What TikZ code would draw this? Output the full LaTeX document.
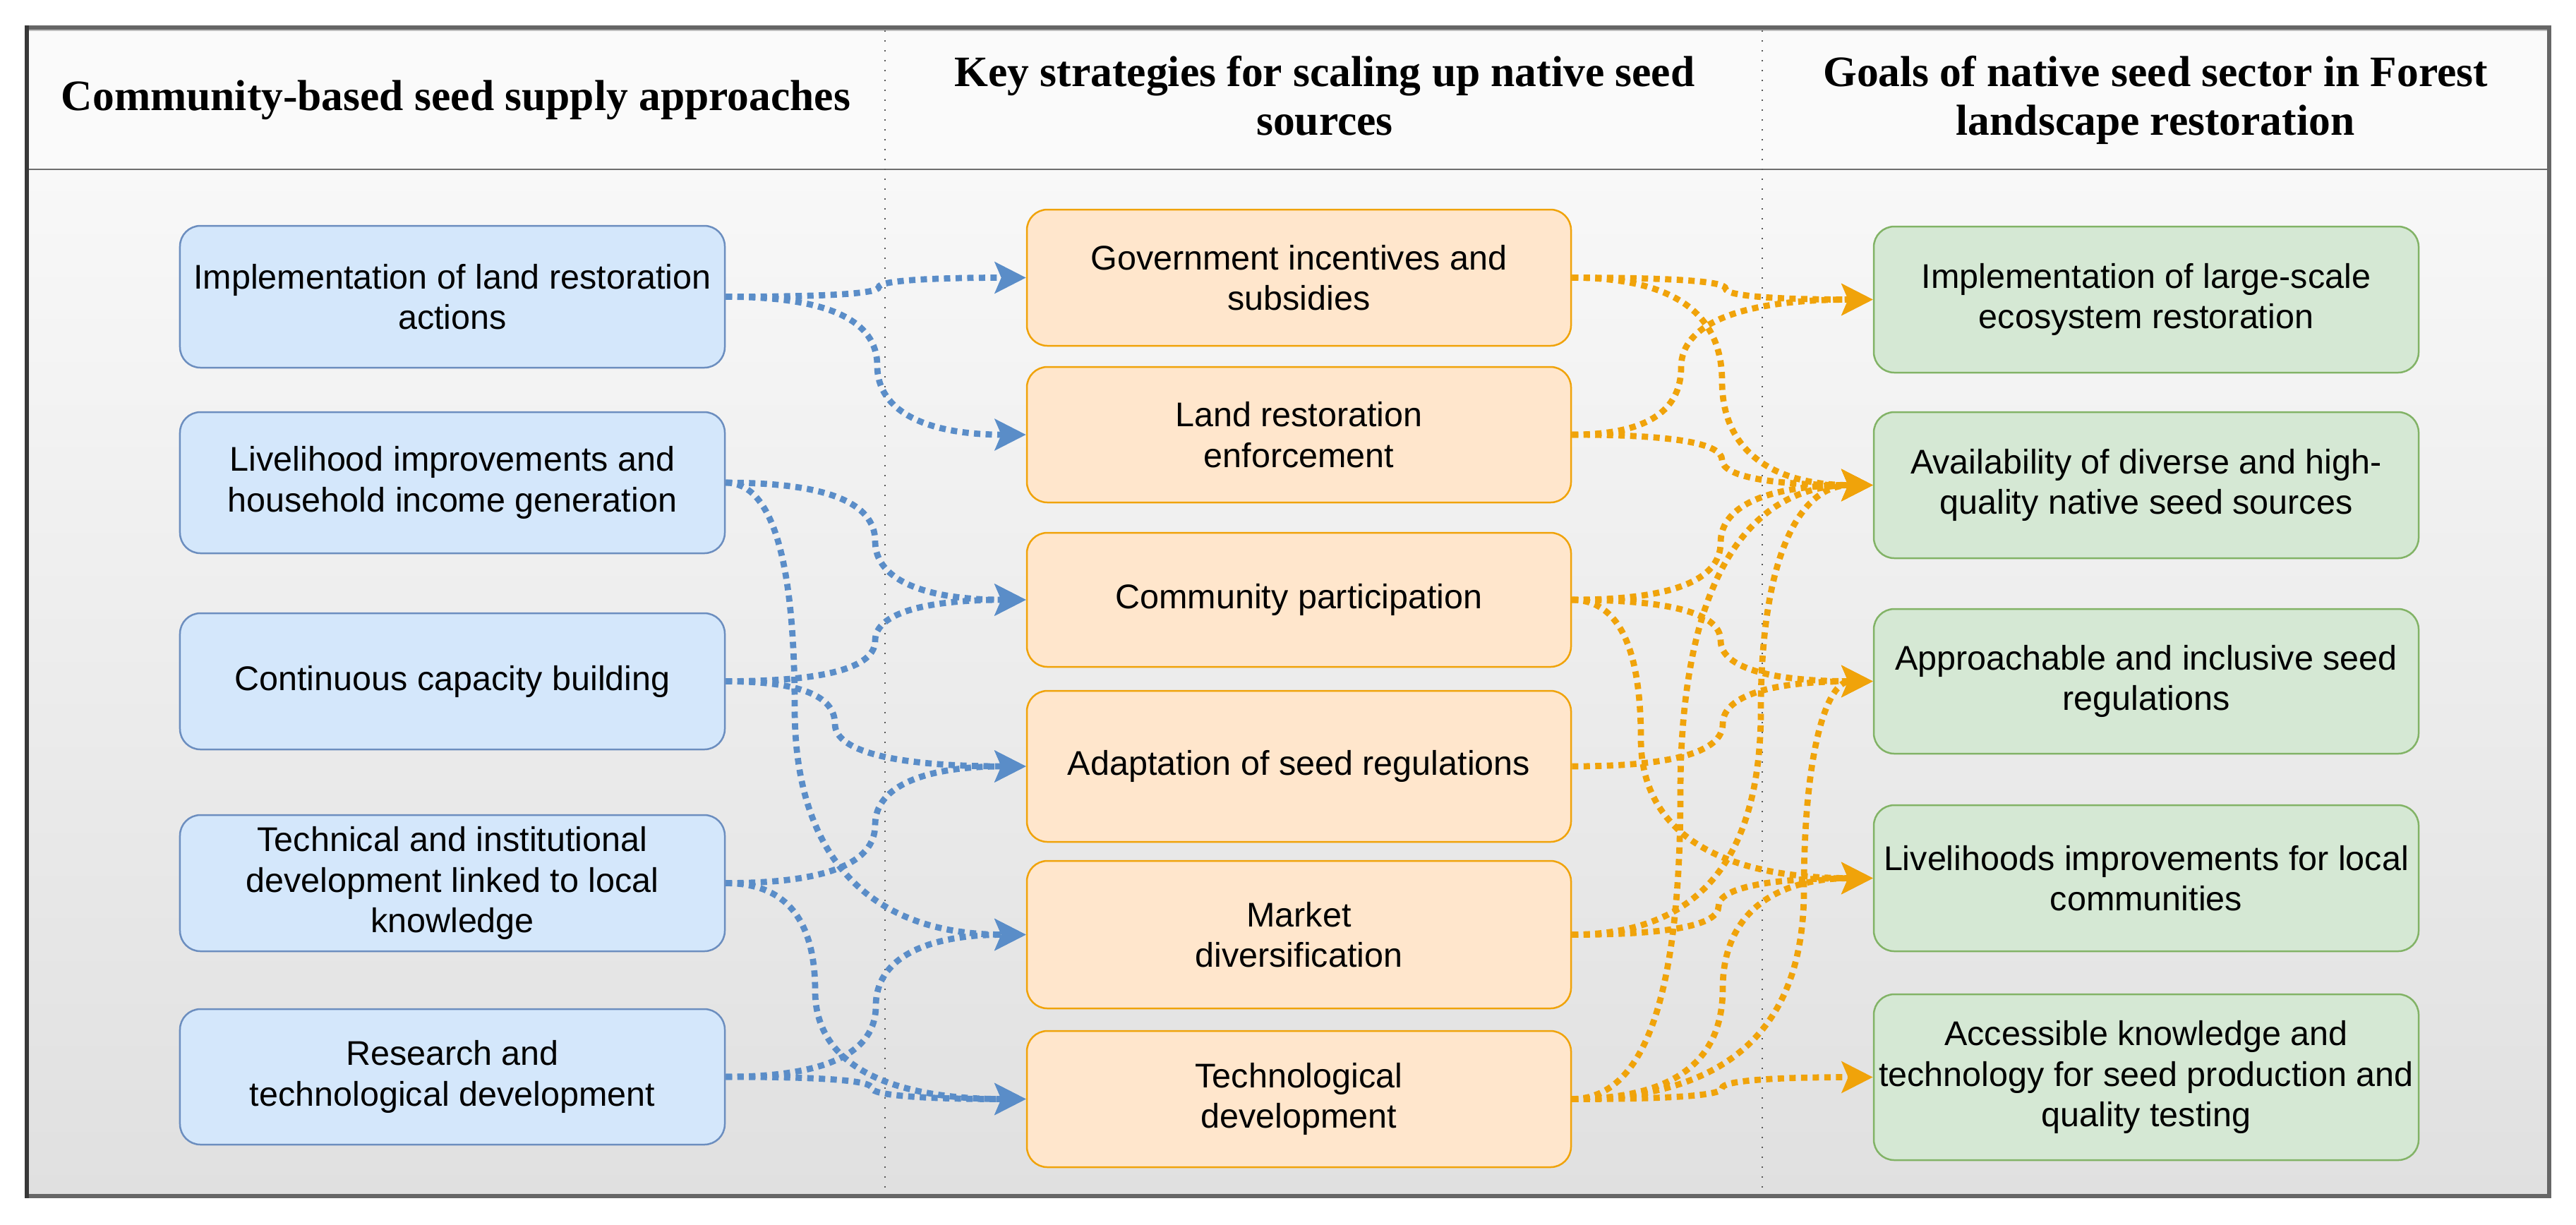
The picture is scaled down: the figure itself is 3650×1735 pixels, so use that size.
\documentclass[tikz,border=0pt]{standalone}
\usepackage{fontspec}
\setmainfont{Liberation Serif}
\setsansfont{Liberation Sans}
\usetikzlibrary{arrows.meta,calc}
\definecolor{bfill}{HTML}{D4E7FB}
\definecolor{bstroke}{HTML}{6C8EBF}
\definecolor{ofill}{HTML}{FFE6CC}
\definecolor{ostroke}{HTML}{F0A30A}
\definecolor{gfill}{HTML}{D5E8D4}
\definecolor{gstroke}{HTML}{82B366}
\definecolor{barrow}{HTML}{5A8DC8}
\definecolor{oarrow}{HTML}{F0A30A}
\definecolor{framec}{HTML}{666666}
\definecolor{hdrbg}{HTML}{FAFAFA}
\definecolor{bodytop}{HTML}{F8F8F8}
\definecolor{bodybot}{HTML}{E0E0E0}
% curved orthogonal link: style, source, target, x of vertical part (px)
\newcommand\linkS[4]{%
  \draw[#1] let \p1=(#2.east), \p2=(#3.west), \p3=(#4,0) in
    (\p1) .. controls ({(\x1)+2/3*((\x3)-(\x1))},\y1) and (\x3,{(\y1)+((\y2)-(\y1))/6}) ..
    (\x3,{((\y1)+(\y2))/2}) .. controls (\x3,{(\y2)-((\y2)-(\y1))/6}) and ({(\x2)+2/3*((\x3)-(\x2))},\y2) .. (\p2);
}
\begin{document}
\begin{tikzpicture}[x=0.2pt,y=-0.2pt,
  box/.style={rounded corners=5.8pt, line width=0.5pt, minimum width=154.4pt,
    align=center, inner sep=0pt, text=black,
    font=\fontsize{9.7pt}{11.5pt}\selectfont\sffamily},
  bbox/.style={box, draw=bstroke, fill=bfill},
  obox/.style={box, draw=ostroke, fill=ofill, minimum width=154.2pt},
  gbox/.style={box, draw=gstroke, fill=gfill},
  hdr/.style={inner sep=0pt, align=center, text=black,
    font=\fontsize{12.3pt}{13.8pt}\selectfont\rmfamily\bfseries},
  link/.style={line width=1.75pt, dash pattern=on 1.8pt off 1.5pt,
    -{Stealth[length=8.8pt,width=8.8pt,inset=1.8pt]}},
  blink/.style={link, draw=barrow},
  olink/.style={link, draw=oarrow},
  divider/.style={draw=black!65, line width=0.45pt, dash pattern=on 0.45pt off 2.35pt}
]
\useasboundingbox (0,0) rectangle (3650,1735);
\fill[white] (0,0) rectangle (3650,1735);
% background
\fill[hdrbg] (38,39) rectangle (3612,240);
\shade[top color=bodytop, bottom color=bodybot] (38,240) rectangle (3612,1695);
\draw[black!25, line width=0.3pt] (41,43) -- (3609,43);
\draw[black!57, line width=0.45pt] (38,240) -- (3612,240);
% column dividers
\coordinate (d1t) at (1254,43); \coordinate (d1b) at (1254,1692);
\coordinate (d2t) at (2497,43); \coordinate (d2b) at (2497,1692);
\draw[divider] (d1t) -- (d1b);
\draw[divider] (d2t) -- (d2b);
% frame
\draw[framec, line width=1.2pt] (38,39) rectangle (3612,1695);
\draw[black!78, line width=1.2pt] (38,36) -- (38,1698);
% headers
\node[hdr] (H1) at (646,143) {\strut Community-based seed supply approaches};
\node[hdr] (H2) at (1877,143) {\strut Key strategies for scaling up native seed\\\strut sources};
\node[hdr] (H3) at (3054,143) {\strut Goals of native seed sector in Forest\\\strut landscape restoration};
% left column
\node[bbox, minimum height=40.2pt] (L1) at (641,420.5) {Implementation of land restoration\\actions};
\node[bbox, minimum height=40pt] (L2) at (641,684) {Livelihood improvements and\\household income generation};
\node[bbox, minimum height=38.6pt] (L3) at (641,965.5) {Continuous capacity building};
\node[bbox, minimum height=38.6pt] (L4) at (641,1251.5) {Technical and institutional\\development linked to local\\knowledge};
\node[bbox, minimum height=38.4pt] (L5) at (641,1526) {Research and\\technological development};
% middle column
\node[obox, minimum height=38.6pt] (M1) at (1840.5,393.5) {Government incentives and\\subsidies};
\node[obox, minimum height=38.4pt] (M2) at (1840.5,616) {Land restoration\\enforcement};
\node[obox, minimum height=38pt] (M3) at (1840.5,850) {Community participation};
\node[obox, minimum height=42.8pt] (M4) at (1840.5,1086) {Adaptation of seed regulations};
\node[obox, minimum height=41.8pt] (M5) at (1840.5,1324.5) {Market\\diversification};
\node[obox, minimum height=38.6pt] (M6) at (1840.5,1557.5) {Technological\\development};
% right column
\node[gbox, minimum height=41.4pt] (G1) at (3041,424.5) {Implementation of large-scale\\ecosystem restoration};
\node[gbox, minimum height=41.4pt] (G2) at (3041,687.5) {Availability of diverse and high-\\quality native seed sources};
\node[gbox, minimum height=41pt] (G3) at (3041,965.5) {Approachable and inclusive seed\\regulations};
\node[gbox, minimum height=41.4pt] (G4) at (3041,1244.5) {Livelihoods improvements for local\\communities};
\node[gbox, minimum height=47pt] (G5) at (3041,1526.5) {Accessible knowledge and\\technology for seed production and\\quality testing};
% blue links
\linkS{blink}{L1}{M1}{1245}
\linkS{blink}{L1}{M2}{1243}
\linkS{blink}{L2}{M3}{1240}
\linkS{blink}{L2}{M5}{1126}
\linkS{blink}{L3}{M3}{1240}
\linkS{blink}{L3}{M4}{1183}
\linkS{blink}{L4}{M4}{1240}
\linkS{blink}{L4}{M6}{1155}
\linkS{blink}{L5}{M5}{1241}
\linkS{blink}{L5}{M6}{1235}
% orange links
\linkS{olink}{M1}{G1}{2445}
\linkS{olink}{M1}{G2}{2440}
\linkS{olink}{M2}{G1}{2382}
\linkS{olink}{M2}{G2}{2440}
\linkS{olink}{M3}{G2}{2438}
\linkS{olink}{M3}{G3}{2438}
\linkS{olink}{M3}{G4}{2325}
\linkS{olink}{M4}{G3}{2441}
\linkS{olink}{M5}{G2}{2495}
\linkS{olink}{M5}{G4}{2435}
\linkS{olink}{M6}{G2}{2381}
\linkS{olink}{M6}{G3}{2556}
\linkS{olink}{M6}{G4}{2441}
\linkS{olink}{M6}{G5}{2440}
\end{tikzpicture}
\end{document}
